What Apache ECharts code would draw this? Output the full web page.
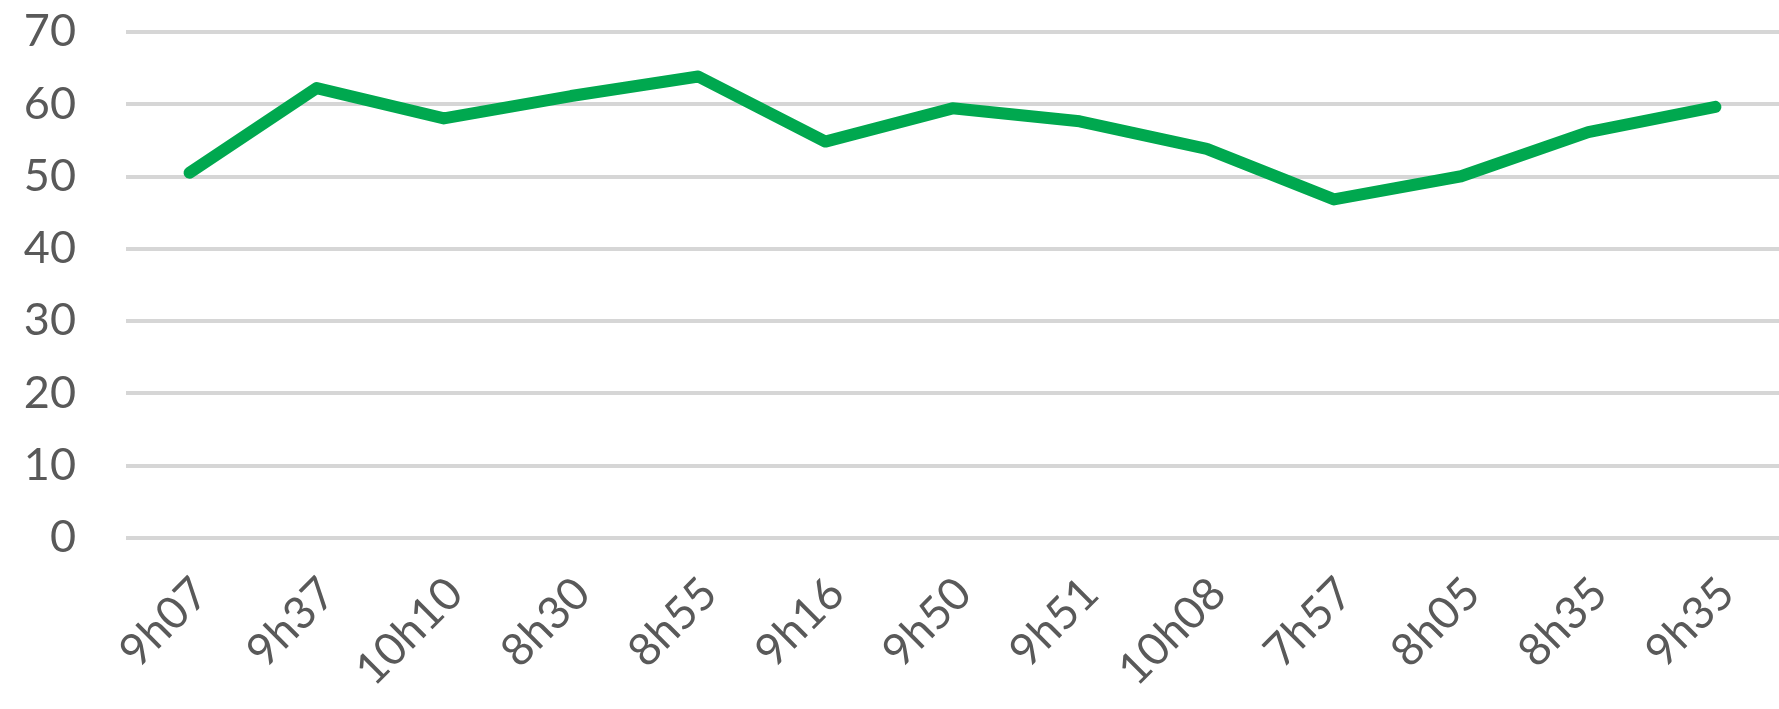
<!DOCTYPE html>
<html>
<head>
<meta charset="utf-8">
<script src="https://cdn.jsdelivr.net/npm/echarts@6/dist/echarts.min.js"></script>
<style>
  html, body { margin: 0; padding: 0; background: #ffffff; }
  #chart { width: 1779px; height: 709px; }
</style>
</head>
<body>
<div id="chart"></div>
<script>
// times along the x axis
const categories = ['9h07', '9h37', '10h10', '8h30', '8h55', '9h16', '9h50', '9h51', '10h08', '7h57', '8h05', '8h35', '9h35'];
// values
const values = [50.5, 62.2, 58.0, 61.1, 63.8, 54.8, 59.4, 57.6, 53.8, 46.8, 50.0, 56.1, 59.6];
// y ticks 0..70 step 10
const yMin = 0;
const yMax = 70;
const yStep = 10;

const chart = echarts.init(document.getElementById('chart'));

chart.setOption({
    animation: false,
    backgroundColor: '#ffffff',
    grid: {
        left: 126,
        top: 31.7,
        bottom: 171.3,
        width: 1664
    },
    xAxis: {
        type: 'category',
        data: categories,
        boundaryGap: true,
        axisLine: { show: false },
        axisTick: { show: false },
        axisLabel: {
            rotate: 45,
            interval: 0,
            margin: 37,
            verticalAlign: 'top', // pushes the rotated text down-right a little
            lineHeight: 32,
            color: '#595959',
            fontFamily: 'Lato',
            fontSize: 45
        }
    },
    yAxis: {
        type: 'value',
        min: yMin,
        max: yMax,
        interval: yStep,
        axisLine: { show: false },
        axisTick: { show: false },
        axisLabel: {
            margin: 50,
            color: '#595959',
            fontFamily: 'Lato',
            fontSize: 45
        },
        splitLine: {
            lineStyle: { color: '#d6d6d6', width: 4 }
        }
    },
    series: [{
        type: 'line',
        data: values,
        showSymbol: false,
        lineStyle: {
            color: '#00a84f',
            width: 12,
            cap: 'round',
            join: 'round'
        }
    }]
});
</script>
</body>
</html>
